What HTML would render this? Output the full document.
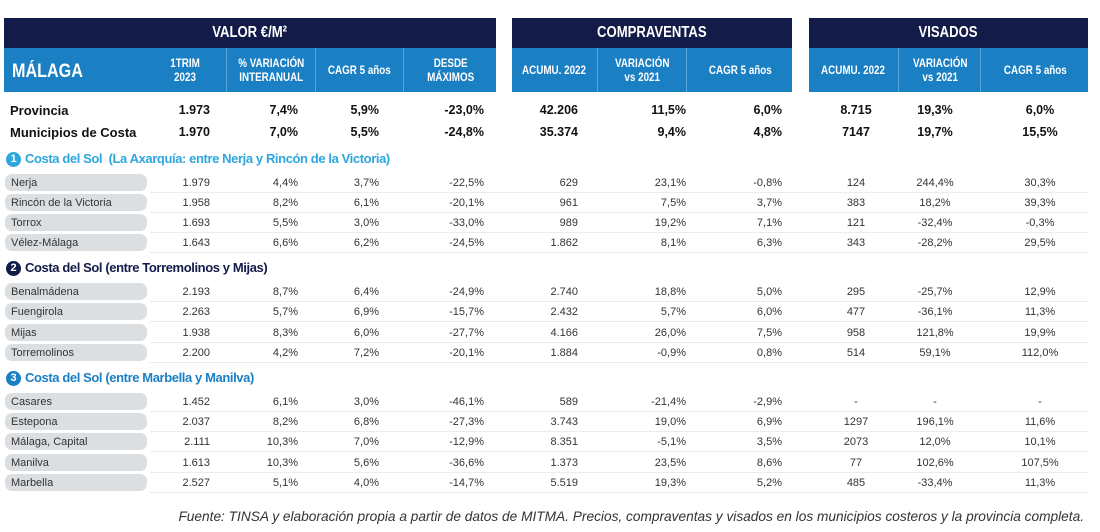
<!DOCTYPE html>
<html><head><meta charset="utf-8">
<style>
body{margin:0;background:#fff;}
#root{position:relative;width:1100px;height:532px;overflow:hidden;font-family:"Liberation Sans",sans-serif;color:#222;}
.a{position:absolute;white-space:nowrap;}
.navy{background:#131b49;color:#fff;font-weight:bold;font-size:16px;text-align:center;line-height:30px;}
.sx{display:inline-block;transform:scaleX(0.82);}
.blue{background:#1a7fc3;}
.hc{color:#fff;font-weight:bold;font-size:12px;text-align:center;line-height:14px;display:flex;align-items:center;justify-content:center;height:44px;border-left:1px solid #5aa6da;}
.pill{background:#dcdfe2;border-radius:7px;height:17px;}
.sep{height:1px;background:#ececec;}
.v{font-size:11px;line-height:14px;color:#333;}
.b{font-size:12.5px;font-weight:bold;color:#111;}
.badge{display:inline-block;width:15px;height:15px;border-radius:50%;color:#fff;font-size:11px;text-align:center;line-height:15px;margin-right:4px;vertical-align:1px;letter-spacing:0;}
.sec{font-weight:bold;font-size:13px;letter-spacing:-0.4px;}
</style></head><body>
<div id="root">
  <div class="a navy" style="left:4px;top:18px;width:492px;height:30px"><span class="sx">VALOR €/M²</span></div>
  <div class="a navy" style="left:512px;top:18px;width:280px;height:30px"><span class="sx">COMPRAVENTAS</span></div>
  <div class="a navy" style="left:809px;top:18px;width:279px;height:30px"><span class="sx">VISADOS</span></div>
  <div class="a blue" style="left:4px;top:48px;width:492px;height:44px"></div>
  <div class="a blue" style="left:512px;top:48px;width:280px;height:44px"></div>
  <div class="a blue" style="left:809px;top:48px;width:279px;height:44px"></div>
  <div class="a" style="left:12px;top:61px;color:#fff;font-weight:bold;font-size:19px;transform:scaleX(0.85);transform-origin:left">MÁLAGA</div>
  <div class="a hc" style="left:145px;top:48px;width:80px;border-left:none"><span class="sx">1TRIM<br>2023</span></div>
  <div class="a hc" style="left:226px;top:48px;width:88px"><span class="sx">% VARIACIÓN<br>INTERANUAL</span></div>
  <div class="a hc" style="left:315px;top:48px;width:87px"><span class="sx">CAGR 5 años</span></div>
  <div class="a hc" style="left:403px;top:48px;width:93px"><span class="sx">DESDE<br>MÁXIMOS</span></div>
  <div class="a hc" style="left:512px;top:48px;width:85px;border-left:none"><span class="sx">ACUMU. 2022</span></div>
  <div class="a hc" style="left:597px;top:48px;width:88px"><span class="sx">VARIACIÓN<br>vs 2021</span></div>
  <div class="a hc" style="left:686px;top:48px;width:106px"><span class="sx">CAGR 5 años</span></div>
  <div class="a hc" style="left:809px;top:48px;width:89px;border-left:none"><span class="sx">ACUMU. 2022</span></div>
  <div class="a hc" style="left:898px;top:48px;width:82px"><span class="sx">VARIACIÓN<br>vs 2021</span></div>
  <div class="a hc" style="left:980px;top:48px;width:108px"><span class="sx">CAGR 5 años</span></div>

  <div class="a b" style="left:10px;top:103px;font-size:13px">Provincia</div>
  <div class="a b" style="left:10px;top:125px;font-size:13px">Municipios de Costa</div>

  <div class="a sec" style="left:6px;top:151px;color:#2ea6de"><span class="badge" style="background:#2ea6de">1</span>Costa del Sol&nbsp; (La Axarquía: entre Nerja y Rincón de la Victoria)</div>
  <div class="a sec" style="left:6px;top:260px;color:#131b49"><span class="badge" style="background:#131b49">2</span>Costa del Sol (entre Torremolinos y Mijas)</div>
  <div class="a sec" style="left:6px;top:370px;color:#1a7fc3"><span class="badge" style="background:#1a7fc3">3</span>Costa del Sol (entre Marbella y Manilva)</div>

  <div class="a" style="right:16px;top:509px;font-style:italic;font-size:13.7px;color:#333">Fuente: TINSA y elaboración propia a partir de datos de MITMA. Precios, compraventas y visados en los municipios costeros y la provincia completa.</div>
</div>
<script>
const summaryNames=["Provincia","Municipios de Costa"];
const summaryValues=[
 ["1.973","7,4%","5,9%","-23,0%","42.206","11,5%","6,0%","8.715","19,3%","6,0%"],
 ["1.970","7,0%","5,5%","-24,8%","35.374","9,4%","4,8%","7147","19,7%","15,5%"]];
const summaryY=[111,133];
const townNames=["Nerja","Rincón de la Victoria","Torrox","Vélez-Málaga","Benalmádena","Fuengirola","Mijas","Torremolinos","Casares","Estepona","Málaga, Capital","Manilva","Marbella"];
const townValues=[
 ["1.979","4,4%","3,7%","-22,5%","629","23,1%","-0,8%","124","244,4%","30,3%"],
 ["1.958","8,2%","6,1%","-20,1%","961","7,5%","3,7%","383","18,2%","39,3%"],
 ["1.693","5,5%","3,0%","-33,0%","989","19,2%","7,1%","121","-32,4%","-0,3%"],
 ["1.643","6,6%","6,2%","-24,5%","1.862","8,1%","6,3%","343","-28,2%","29,5%"],
 ["2.193","8,7%","6,4%","-24,9%","2.740","18,8%","5,0%","295","-25,7%","12,9%"],
 ["2.263","5,7%","6,9%","-15,7%","2.432","5,7%","6,0%","477","-36,1%","11,3%"],
 ["1.938","8,3%","6,0%","-27,7%","4.166","26,0%","7,5%","958","121,8%","19,9%"],
 ["2.200","4,2%","7,2%","-20,1%","1.884","-0,9%","0,8%","514","59,1%","112,0%"],
 ["1.452","6,1%","3,0%","-46,1%","589","-21,4%","-2,9%","-","-","-"],
 ["2.037","8,2%","6,8%","-27,3%","3.743","19,0%","6,9%","1297","196,1%","11,6%"],
 ["2.111","10,3%","7,0%","-12,9%","8.351","-5,1%","3,5%","2073","12,0%","10,1%"],
 ["1.613","10,3%","5,6%","-36,6%","1.373","23,5%","8,6%","77","102,6%","107,5%"],
 ["2.527","5,1%","4,0%","-14,7%","5.519","19,3%","5,2%","485","-33,4%","11,3%"]];
const townY=[183,203,223,243,292,312,333,353,402,422,442,463,483];
const colRight=[210,298,379,484,578,686,782];
const colCenter=[856,935,1040];
const root=document.getElementById('root');
function cell(txt,y,i,cls){
  const d=document.createElement('div');
  
  
  d.className='a '+cls;
  d.textContent=txt;
  if(i<7){d.style.right=(1100-colRight[i])+'px';}
  else{d.style.left=(colCenter[i-7]-40)+'px';d.style.width='80px';d.style.textAlign='center';}
  d.style.top=(y-8)+'px';
  root.appendChild(d);
}
summaryValues.forEach((r,ri)=>r.forEach((t,i)=>cell(t,summaryY[ri],i,'b')));
townValues.forEach((r,ri)=>{
  const y=townY[ri];
  const p=document.createElement('div');
  
  
  p.className='a pill';
  p.style.left='5px';p.style.top=(y-9)+'px';p.style.width='142px';
  root.appendChild(p);
  const s=document.createElement('div');
  
  
  s.className='a sep';
  s.style.left='150px';s.style.top=(y+9)+'px';s.style.width='938px';
  root.appendChild(s);
  const l=document.createElement('div');
  
  
  l.className='a v';
  l.textContent=townNames[ri];
  l.style.left='11px';l.style.top=(y-7)+'px';
  root.appendChild(l);
  r.forEach((t,i)=>cell(t,y+1,i,'v'));
});
</script>
</body></html>
